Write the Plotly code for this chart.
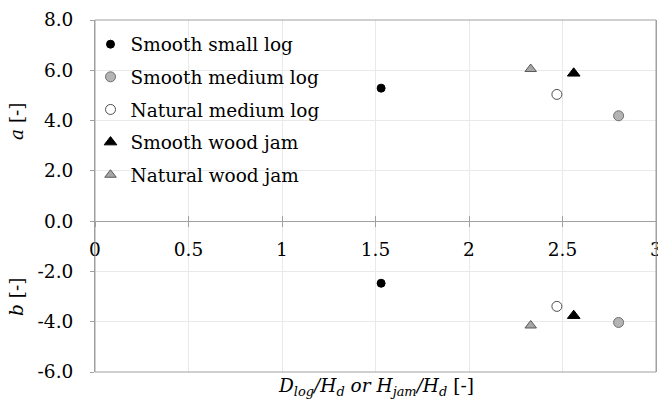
import plotly.graph_objects as go

# Fitted coefficients a and b against relative obstruction height
series_names = ["Smooth small log", "Smooth medium log", "Natural medium log",
                "Smooth wood jam", "Natural wood jam"]
ratio = [1.53, 2.80, 2.47, 2.56, 2.33]
coef_a = [5.29, 4.19, 5.04, 5.88, 6.05]
coef_b = [-2.47, -4.03, -3.39, -3.76, -4.15]

x_tick_vals = [0, 0.5, 1, 1.5, 2, 2.5, 3]
x_tick_text = ["0", "0.5", "1", "1.5", "2", "2.5", "3"]
y_tick_vals = [-6, -4, -2, 0, 2, 4, 6, 8]
y_tick_text = ["-6.0", "-4.0", "-2.0", "0.0", "2.0", "4.0", "6.0", "8.0"]

styles = [
    dict(symbol="circle", size=8, color="#000000", line=dict(color="#000000", width=1)),
    dict(symbol="circle", size=10, color="#b4b4b4", line=dict(color="#6e6e6e", width=1)),
    dict(symbol="circle", size=10, color="#ffffff", line=dict(color="#4d4d4d", width=1)),
    dict(symbol="triangle-up", size=11, color="#000000", line=dict(color="#000000", width=1)),
    dict(symbol="triangle-up", size=10, color="#a6a6a6", line=dict(color="#595959", width=1)),
]

FONT = "DejaVu Serif"
FS = 18.5
AX = "#a0a0a0"
GRID = "#e9e9e9"

fig = go.Figure()
for i, (name, xv, av, bv, st) in enumerate(zip(series_names, ratio, coef_a, coef_b, styles)):
    # upper half: coefficient a
    fig.add_trace(go.Scatter(x=[xv], y=[av], mode="markers", name=name,
                             legendgroup=f"s{i}", marker=st, cliponaxis=False,
                             xaxis="x", yaxis="y"))
    # lower half: coefficient b (same series, second x axis for the crossing ticks)
    fig.add_trace(go.Scatter(x=[xv], y=[bv], mode="markers", name=name,
                             legendgroup=f"s{i}", showlegend=False, marker=st,
                             cliponaxis=False, xaxis="x2", yaxis="y"))

zero_pos = 6 / 14

fig.update_layout(
    width=658, height=401,
    margin=dict(l=95, r=2, t=20, b=29, autoexpand=False),
    paper_bgcolor="white", plot_bgcolor="white",
    font=dict(family=FONT, size=FS, color="black"),
    showlegend=True,
    legend=dict(x=-0.008, y=0.984, xanchor="left", yanchor="top",
                bgcolor="rgba(0,0,0,0)", font=dict(family=FONT, size=FS),
                itemwidth=30, tracegroupgap=5.6),
    xaxis=dict(range=[0, 3], anchor="free", position=zero_pos,
               tickvals=x_tick_vals, ticktext=x_tick_text,
               showline=True, linecolor=AX, linewidth=1,
               ticks="outside", ticklen=5, tickcolor=AX,
               ticklabelstandoff=7, ticklabeloverflow="allow", automargin=False,
               showgrid=True, gridcolor=GRID, zeroline=False),
    xaxis2=dict(range=[0, 3], overlaying="x", anchor="free", position=zero_pos,
                tickvals=x_tick_vals, showticklabels=False,
                ticks="inside", ticklen=5, tickcolor=AX, automargin=False,
                showline=False, showgrid=False, zeroline=False),
    yaxis=dict(range=[-6, 8], tickvals=y_tick_vals, ticktext=y_tick_text,
               showline=True, mirror=True, linecolor=AX, linewidth=1,
               ticks="outside", ticklen=4, tickcolor=AX,
               ticklabelstandoff=13, automargin=False,
               showgrid=True, gridcolor=GRID, zeroline=False),
    # plot-area frame
    shapes=[dict(type="rect", xref="paper", yref="paper", x0=0, x1=1, y0=0, y1=1,
                 line=dict(color=AX, width=1), layer="above")],
)

annotations = [
    dict(text="<i>a</i> [-]", xref="paper", yref="y", x=-0.14, y=4,
         textangle=-90, showarrow=False, xanchor="center", yanchor="middle",
         font=dict(family=FONT, size=FS)),
    dict(text="<i>b</i> [-]", xref="paper", yref="y", x=-0.14, y=-3,
         textangle=-90, showarrow=False, xanchor="center", yanchor="middle",
         font=dict(family=FONT, size=FS)),
    dict(text="<i>D</i><sub><i>log</i></sub><i>/H</i><sub><i>d</i></sub><i> or H</i>"
              "<sub><i>jam</i></sub><i>/H</i><sub><i>d</i></sub> [-]",
         xref="paper", yref="paper", x=0.5, y=-0.042,
         showarrow=False, xanchor="center", yanchor="middle",
         font=dict(family=FONT, size=FS)),
]
fig.update_layout(annotations=annotations)

fig.write_html("out.html")
